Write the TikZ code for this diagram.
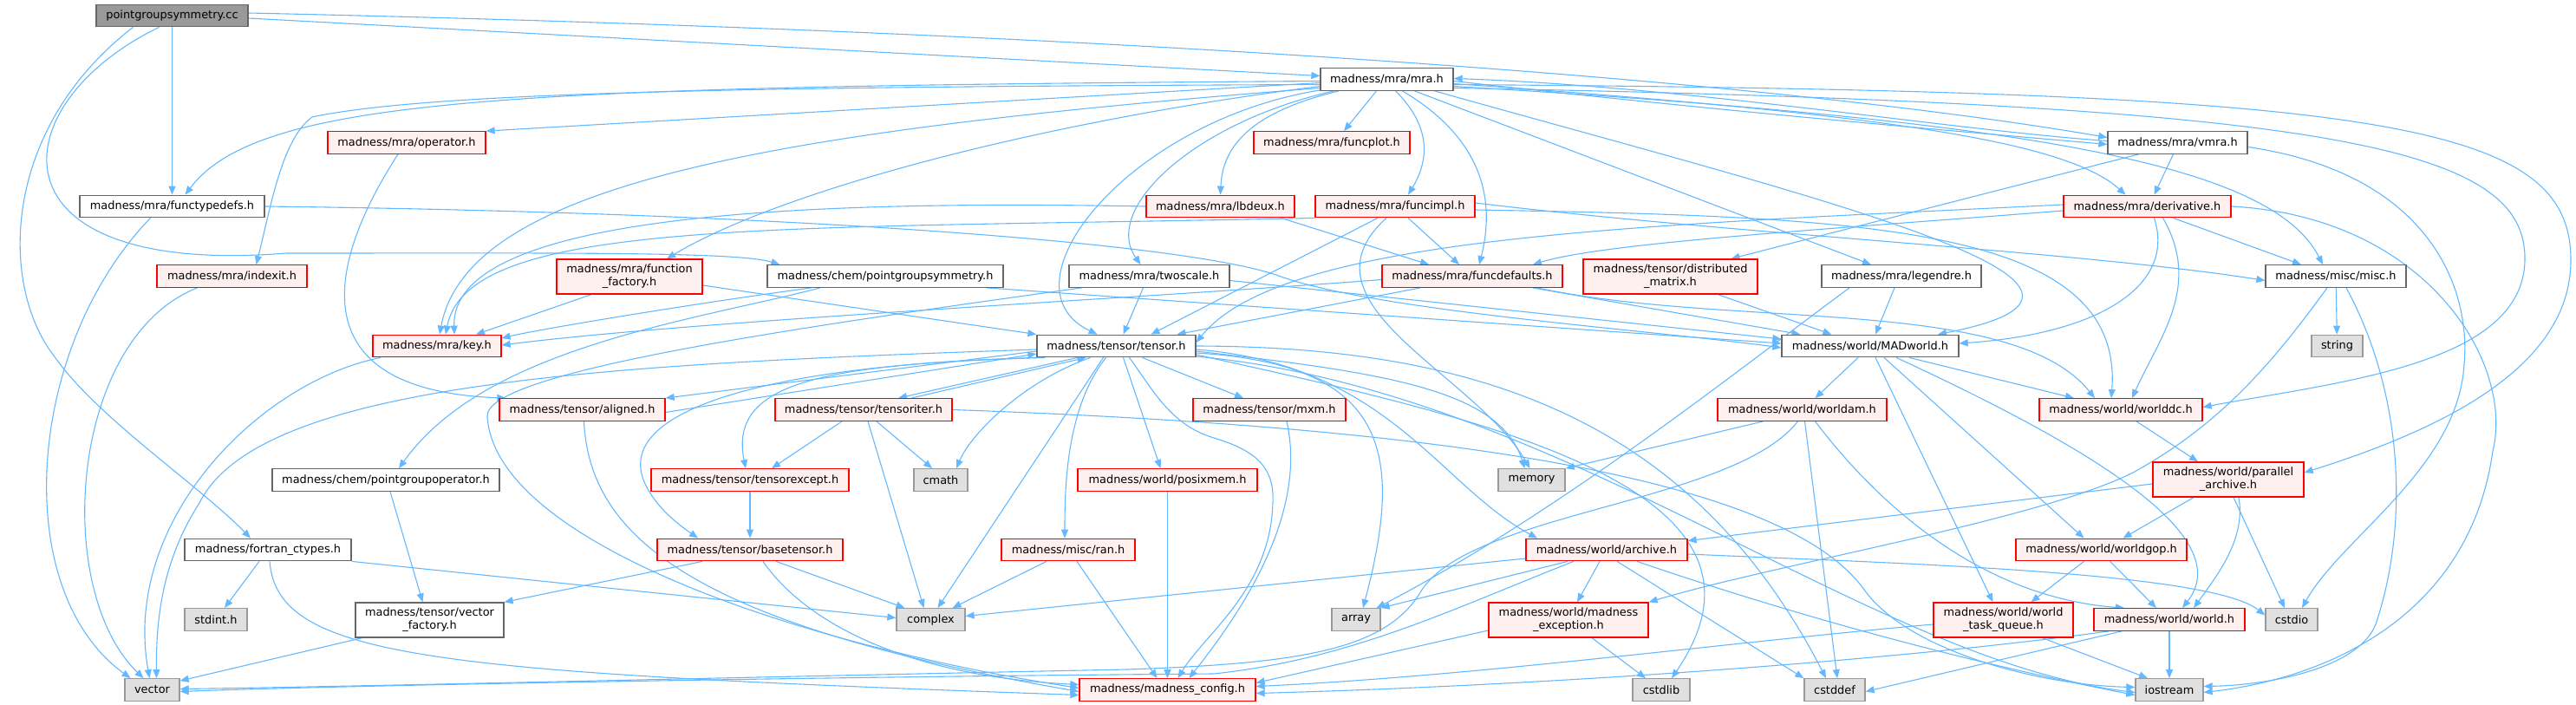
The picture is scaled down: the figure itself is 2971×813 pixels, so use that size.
\documentclass[tikz,border=0pt]{standalone}
\usepackage{fontspec}
\newfontfamily\dejavu{DejaVu Sans}
\usetikzlibrary{arrows.meta}
\pgfdeclarelayer{bg}
\pgfsetlayers{bg,main}
\definecolor{lnkc}{HTML}{63B8FF}
\definecolor{rfill}{HTML}{FFF0F0}
\definecolor{gfill}{HTML}{E0E0E0}
\definecolor{gborder}{HTML}{999999}
\definecolor{wborder}{HTML}{666666}
\definecolor{rootfill}{HTML}{999999}
\begin{document}
\begin{tikzpicture}[x=1pt,y=-1pt,
  nbase/.style={rectangle, inner sep=0pt, line width=1.3pt, align=center, font={\dejavu\fontsize{12.9}{15}\selectfont}, minimum height=25.5pt},
  nw/.style={nbase, draw=wborder, fill=white},
  nr/.style={nbase, draw=red, fill=rfill},
  ng/.style={nbase, draw=gborder, fill=gfill},
  nroot/.style={nbase, draw=wborder, fill=rootfill},
  tall/.style={minimum height=40pt},
  lnk/.style={draw=lnkc, line width=1.1pt, -{Triangle[length=10pt,width=8pt]}}
]
\useasboundingbox (0,0) rectangle (2971,813);

% ---------- nodes ----------
\node[nroot, minimum width=175pt] (pgs) at (198.5,18) {pointgroupsymmetry.cc};
\node[nw, minimum width=153pt] (mra) at (1599.5,91.5) {madness/mra/mra.h};
\node[nr, minimum width=182pt] (operator) at (469,164.5) {madness/mra/operator.h};
\node[nr, minimum width=180pt] (funcplot) at (1536,164.5) {madness/mra/funcplot.h};
\node[nw, minimum width=161pt] (vmra) at (2511.5,164.5) {madness/mra/vmra.h};
\node[nw, minimum width=213pt] (functypedefs) at (198.5,238) {madness/mra/functypedefs.h};
\node[nr, minimum width=171pt] (lbdeux) at (1407.5,238) {madness/mra/lbdeux.h};
\node[nr, minimum width=184pt] (funcimpl) at (1609,238) {madness/mra/funcimpl.h};
\node[nr, minimum width=193pt] (derivative) at (2476.5,238) {madness/mra/derivative.h};
\node[nr, minimum width=173pt] (indexit) at (267.5,318.5) {madness/mra/indexit.h};
\node[nr, tall, minimum width=168pt] (ffactory) at (726,319) {madness/mra/function\\\_factory.h};
\node[nw, minimum width=272pt] (chempgs) at (1021,318.5) {madness/chem/pointgroupsymmetry.h};
\node[nw, minimum width=185pt] (twoscale) at (1325.5,318.5) {madness/mra/twoscale.h};
\node[nr, minimum width=208pt] (funcdefaults) at (1698,318.5) {madness/mra/funcdefaults.h};
\node[nr, tall, minimum width=201pt] (distmat) at (1926.5,319) {madness/tensor/distributed\\\_matrix.h};
\node[nw, minimum width=184pt] (legendre) at (2193,318.5) {madness/mra/legendre.h};
\node[nw, minimum width=162pt] (misc) at (2694,318.5) {madness/misc/misc.h};
\node[nr, minimum width=148pt] (key) at (504,399) {madness/mra/key.h};
\node[nw, minimum width=183pt] (tensor) at (1287.5,399) {madness/tensor/tensor.h};
\node[nw, minimum width=204pt] (madworld) at (2157,399) {madness/world/MADworld.h};
\node[ng, minimum width=59pt] (string) at (2695.5,399) {string};
\node[nr, minimum width=191pt] (aligned) at (671.5,472.5) {madness/tensor/aligned.h};
\node[nr, minimum width=204pt] (tensoriter) at (996,472.5) {madness/tensor/tensoriter.h};
\node[nr, minimum width=176pt] (mxm) at (1464,472.5) {madness/tensor/mxm.h};
\node[nr, minimum width=195pt] (worldam) at (2078.5,472.5) {madness/world/worldam.h};
\node[nr, minimum width=188pt] (worlddc) at (2446,472.5) {madness/world/worlddc.h};
\node[nw, minimum width=262pt] (pgoper) at (445,553.5) {madness/chem/pointgroupoperator.h};
\node[nr, minimum width=228pt] (texcept) at (865,553.5) {madness/tensor/tensorexcept.h};
\node[ng, minimum width=62pt] (cmath) at (1085,553.5) {cmath};
\node[nr, minimum width=207pt] (posixmem) at (1346.5,553.5) {madness/world/posixmem.h};
\node[ng, minimum width=77pt] (memory) at (1766.5,553.5) {memory};
\node[nr, tall, minimum width=174pt] (parchive) at (2570,553) {madness/world/parallel\\\_archive.h};
\node[nw, minimum width=192pt] (fortran) at (309,634) {madness/fortran\_ctypes.h};
\node[nr, minimum width=214pt] (basetensor) at (865,634) {madness/tensor/basetensor.h};
\node[nr, minimum width=154pt] (ran) at (1232,634) {madness/misc/ran.h};
\node[nr, minimum width=186pt] (archive) at (1853,634) {madness/world/archive.h};
\node[nr, minimum width=197pt] (worldgop) at (2423.5,634) {madness/world/worldgop.h};
\node[ng, minimum width=72pt] (stdint) at (249,714.5) {stdint.h};
\node[nw, tall, minimum width=171pt] (vfactory) at (495.5,715) {madness/tensor/vector\\\_factory.h};
\node[ng, minimum width=79pt] (complex) at (1073.5,714.5) {complex};
\node[ng, minimum width=56pt] (array) at (1564,714.5) {array};
\node[nr, tall, minimum width=184pt] (mexcept) at (1809,715) {madness/world/madness\\\_exception.h};
\node[nr, tall, minimum width=161pt] (wtq) at (2310.5,715) {madness/world/world\\\_task\_queue.h};
\node[nr, minimum width=174pt] (world) at (2502,714.5) {madness/world/world.h};
\node[ng, minimum width=60pt] (cstdio) at (2643,714.5) {cstdio};
\node[ng, minimum width=63pt] (vector) at (175.5,795.5) {vector};
\node[nr, minimum width=203pt] (mconfig) at (1346.5,795.5) {madness/madness\_config.h};
\node[ng, minimum width=66pt] (cstdlib) at (1916,795.5) {cstdlib};
\node[ng, minimum width=70pt] (cstddef) at (2116,795.5) {cstddef};
\node[ng, minimum width=78pt] (iostream) at (2502,795.5) {iostream};

% ---------- edges ----------
\begin{pgfonlayer}{bg}
% root
\draw[lnk] ([yshift=-3pt]pgs.east) -- ([yshift=4pt]mra.west);
\draw[lnk] ([yshift=3pt]pgs.east) .. controls (1200,35) and (2000,85) .. ([yshift=6pt]vmra.west);
\draw[lnk] (pgs) -- (functypedefs);
\draw[lnk] ([xshift=-15pt]pgs.south) .. controls (0,120) and (-20,320) .. (330,292) .. controls (650,292) and (850,290) .. ([xshift=15pt]chempgs.north west);
\draw[lnk] ([xshift=-45pt]pgs.south) .. controls (0,150) and (0,330) .. (62,410) .. controls (110,480) and (230,560) .. ([xshift=-20pt]fortran.north);
% mra
\draw[lnk] ([yshift=-4pt]mra.west) -- (operator.north east);
\draw[lnk] ([yshift=-2pt]mra.west) .. controls (600,100) and (300,110) .. ([xshift=15pt]functypedefs.north);
\draw[lnk] ([yshift=-6pt]mra.west) .. controls (900,100) and (500,105) .. (360,135) .. controls (325,160) and (312,240) .. ([xshift=28pt]indexit.north);
\draw[lnk] ([yshift=-8pt]mra.west) .. controls (1200,140) and (900,220) .. ([xshift=43pt]ffactory.north);
\draw[lnk] ([yshift=-10pt]mra.west) .. controls (900,150) and (540,210) .. ([xshift=3pt]key.north);
\draw[lnk] (mra) .. controls (1300,140) and (1150,330) .. ([xshift=-22pt]tensor.north);
\draw[lnk] (mra) .. controls (1380,140) and (1270,240) .. ([xshift=-10pt]twoscale.north);
\draw[lnk] (mra) .. controls (1440,130) and (1410,170) .. (lbdeux.north);
\draw[lnk] ([xshift=-12pt]mra.south) -- ([xshift=14pt]funcplot.north);
\draw[lnk] ([xshift=10pt]mra.south) .. controls (1655,150) and (1645,190) .. ([xshift=15pt]funcimpl.north);
\draw[lnk] ([xshift=18pt]mra.south) .. controls (1710,160) and (1725,230) .. ([xshift=8pt]funcdefaults.north);
\draw[lnk] ([xshift=32pt]mra.south) -- ([xshift=-35pt]legendre.north);
\draw[lnk] ([xshift=55pt]mra.south) .. controls (2100,230) and (2520,330) .. ([xshift=78pt]madworld.north);
\draw[lnk] ([yshift=-2pt]mra.east) .. controls (2000,130) and (2300,155) .. ([yshift=-2pt]vmra.west);
\draw[lnk] ([yshift=-5pt]mra.east) .. controls (2150,130) and (2380,160) .. ([xshift=-25pt]derivative.north);
\draw[lnk] ([yshift=-8pt]mra.east) .. controls (2350,140) and (2620,190) .. ([xshift=-15pt]misc.north);
\draw[lnk] ([yshift=-10pt]mra.east) .. controls (2700,120) and (2914,170) .. (2912,300) .. controls (2910,420) and (2700,440) .. ([yshift=3pt]worlddc.east);
\draw[lnk] ([yshift=-6pt]mra.east) .. controls (2750,105) and (2965,140) .. (2965,300) .. controls (2965,430) and (2800,500) .. ([yshift=8pt]parchive.east);
% vmra
\draw[lnk] ([yshift=2pt]vmra.west) .. controls (2250,150) and (1950,100) .. ([yshift=1pt]mra.east);
\draw[lnk] ([xshift=-5pt]vmra.south) -- ([xshift=8pt]derivative.north);
\draw[lnk] ([xshift=-45pt]vmra.south) -- ([xshift=70pt]distmat.north);
\draw[lnk] ([yshift=-5pt]vmra.east) .. controls (2800,200) and (2850,330) .. (2842,420) .. controls (2835,540) and (2700,620) .. ([xshift=12pt]cstdio.north);
% derivative
\draw[lnk] ([xshift=30pt]derivative.south) -- ([xshift=-40pt]misc.north);
\draw[lnk] ([xshift=8pt]derivative.south) .. controls (2510,330) and (2420,385) .. ([yshift=3pt]madworld.east);
\draw[lnk] ([xshift=18pt]derivative.south) .. controls (2540,330) and (2490,390) .. ([xshift=13pt]worlddc.north);
\draw[lnk] (derivative.east) .. controls (2800,250) and (2900,420) .. (2875,520) .. controls (2850,700) and (2700,780) .. ([yshift=-3pt]iostream.east);
\draw[lnk] ([yshift=-5pt]derivative.west) .. controls (2100,265) and (1850,280) .. ([xshift=70pt]funcdefaults.north);
\draw[lnk] ([yshift=2pt]derivative.west) .. controls (1900,260) and (1480,270) .. ([yshift=4pt]tensor.east);
% functypedefs
\draw[lnk] ([xshift=-25pt]functypedefs.south) .. controls (30,400) and (10,680) .. ([xshift=-25pt]vector.north);
\draw[lnk] (functypedefs.east) .. controls (900,245) and (1380,280) .. (1480,320) .. controls (1600,360) and (1900,380) .. ([yshift=-2pt]madworld.west);
% operator, indexit, key
\draw[lnk] ([xshift=-10pt]operator.south) .. controls (380,300) and (340,450) .. ([xshift=8pt]aligned.north west);
\draw[lnk] ([xshift=-40pt]indexit.south) .. controls (80,390) and (60,680) .. ([xshift=-10pt]vector.north);
\draw[lnk] ([xshift=-65pt]key.south) .. controls (300,440) and (140,600) .. ([xshift=-3pt]vector.north);
% function factory
\draw[lnk] ([xshift=-44pt]ffactory.south) -- ([xshift=45pt]key.north);
\draw[lnk] ([yshift=-10pt]ffactory.east) -- (tensor.north west);
% chem pointgroupsymmetry
\draw[lnk] ([xshift=-85pt]chempgs.south) .. controls (800,350) and (620,380) .. ([yshift=9pt]key.east);
\draw[lnk] ([xshift=-75pt]chempgs.south) .. controls (800,370) and (560,400) .. ([xshift=15pt]pgoper.north);
\draw[lnk] ([xshift=-20pt]chempgs.south east) -- ([yshift=3pt]madworld.west);
% twoscale
\draw[lnk] ([xshift=-7pt]twoscale.south) -- ([xshift=8pt]tensor.north);
\draw[lnk] ([yshift=-5pt]twoscale.east) -- ([yshift=8pt]madworld.west);
\draw[lnk] ([xshift=-78pt]twoscale.south) .. controls (900,380) and (560,430) .. (562,480) .. controls (570,620) and (900,740) .. ([yshift=2pt]mconfig.west);
% funcdefaults
\draw[lnk] ([xshift=-60pt]funcdefaults.south) -- ([xshift=70pt]tensor.north);
\draw[lnk] ([yshift=-4pt]funcdefaults.west) .. controls (1300,345) and (800,370) .. ([yshift=1pt]key.east);
\draw[lnk] ([xshift=-35pt]funcdefaults.south east) -- ([xshift=22pt]madworld.north west);
\draw[lnk] ([xshift=-30pt]funcdefaults.south east) .. controls (2000,380) and (2320,340) .. ([xshift=-30pt]worlddc.north);
% distributed matrix, legendre, misc
\draw[lnk] ([xshift=55pt]distmat.south) -- ([xshift=58pt]madworld.north west);
\draw[lnk] ([xshift=-8pt]legendre.south) -- ([xshift=6pt]madworld.north);
\draw[lnk] ([xshift=-60pt]legendre.south) .. controls (2000,430) and (1800,590) .. ([xshift=-5pt]array.north east);
\draw[lnk] (misc) -- (string);
\draw[lnk] ([xshift=12pt]misc.south) .. controls (2770,450) and (2780,600) .. (2740,720) .. controls (2720,770) and (2620,790) .. ([yshift=4pt]iostream.east);
\draw[lnk] ([xshift=-10pt]misc.south) .. controls (2620,420) and (2560,490) .. (2460,545) .. controls (2350,600) and (2050,650) .. (mexcept.north east);
% lbdeux
\draw[lnk] ([xshift=70pt]lbdeux.south) -- ([xshift=-50pt]funcdefaults.north);
\draw[lnk] (lbdeux.west) .. controls (900,230) and (520,250) .. ([xshift=20pt]key.north);
% funcimpl
\draw[lnk] ([xshift=15pt]funcimpl.south) -- ([xshift=-15pt]funcdefaults.north);
\draw[lnk] ([xshift=-20pt]funcimpl.south) -- ([xshift=40pt]tensor.north);
\draw[lnk] (funcimpl.south west) .. controls (900,265) and (540,250) .. ([xshift=10pt]key.north);
\draw[lnk] ([yshift=4pt]funcimpl.east) .. controls (2000,270) and (2400,290) .. ([yshift=-5pt]misc.west);
\draw[lnk] ([yshift=-4pt]funcimpl.east) .. controls (2150,250) and (2450,260) .. ([xshift=-11pt]worlddc.north);
\draw[lnk] ([xshift=-10pt]funcimpl.south) .. controls (1490,350) and (1700,430) .. ([xshift=-2pt]memory.north);
% tensor
\draw[lnk] ([yshift=-6pt]tensor.west) -- (aligned.north east);
\draw[lnk] ([yshift=-3pt]aligned.east) -- ([yshift=-9pt]tensor.west);
\draw[lnk] ([xshift=-45pt]tensor.south) -- ([xshift=40pt]tensoriter.north);
\draw[lnk] ([xshift=55pt]tensoriter.north) -- ([xshift=-35pt]tensor.south);
\draw[lnk] ([xshift=10pt]tensor.south west) .. controls (950,420) and (840,440) .. ([xshift=-5pt]texcept.north);
\draw[lnk] ([xshift=3pt]tensor.south west) .. controls (900,420) and (700,470) .. (745,560) .. controls (760,590) and (790,610) .. ([xshift=-60pt]basetensor.north);
\draw[lnk] ([xshift=-30pt]tensor.south) .. controls (1180,440) and (1120,500) .. ([xshift=18pt]cmath.north);
\draw[lnk] ([xshift=15pt]tensoriter.south) -- ([xshift=-10pt]cmath.north);
\draw[lnk] ([xshift=-15pt]tensor.south) -- ([xshift=8pt]complex.north);
\draw[lnk] ([xshift=5pt]tensoriter.south) -- ([xshift=-8pt]complex.north);
\draw[lnk] ([xshift=-12pt]tensor.south) .. controls (1230,470) and (1228,560) .. ([xshift=-4pt]ran.north);
\draw[lnk] ([xshift=8pt]tensor.south) -- ([xshift=-8pt]posixmem.north);
\draw[lnk] ([xshift=15pt]tensor.south) .. controls (1330,450) and (1350,490) .. (1400,505) .. controls (1450,520) and (1470,540) .. (1468,580) .. controls (1465,680) and (1390,730) .. ([xshift=12pt]mconfig.north);
\draw[lnk] ([xshift=30pt]tensor.south) -- ([xshift=-30pt]mxm.north);
\draw[lnk] ([yshift=-6pt]tensor.east) .. controls (1600,430) and (1730,450) .. ([xshift=-8pt]memory.north);
\draw[lnk] ([yshift=-8pt]tensor.east) .. controls (1600,420) and (1620,520) .. ([xshift=8pt]array.north);
\draw[lnk] ([yshift=-4pt]tensor.east) .. controls (1600,420) and (1660,560) .. ([xshift=-80pt]archive.north);
\draw[lnk] ([yshift=-10pt]tensor.east) .. controls (1700,480) and (2080,560) .. ([xshift=12pt]cstdlib.north);
\draw[lnk] (tensor.east) .. controls (1700,400) and (1950,480) .. ([xshift=-10pt]cstddef.north);
\draw[lnk] ([yshift=-12pt]tensor.east) .. controls (1800,450) and (2150,760) .. ([yshift=-3pt]iostream.west);
\draw[lnk] ([yshift=-4pt]tensor.west) .. controls (700,420) and (300,440) .. (230,580) .. controls (185,650) and (180,720) .. ([xshift=5pt]vector.north);
% tensoriter
\draw[lnk] ([xshift=-25pt]tensoriter.south) -- ([xshift=25pt]texcept.north);
\draw[lnk] (tensoriter.east) .. controls (1600,490) and (2050,540) .. (2150,680) .. controls (2200,750) and (2350,790) .. ([yshift=3pt]iostream.west);
% aligned, basetensor, tensorexcept
\draw[lnk] ([xshift=2pt]aligned.south) .. controls (680,620) and (800,720) .. ([yshift=-2pt]mconfig.west);
\draw[lnk] ([xshift=30pt]basetensor.south) -- ([xshift=-30pt]complex.north);
\draw[lnk] ([xshift=15pt]basetensor.south) .. controls (930,720) and (1050,780) .. ([yshift=6pt]mconfig.west);
\draw[lnk] ([xshift=-55pt]basetensor.south) -- (vfactory.north east);
\draw[lnk] (texcept) -- (basetensor);
% ran, posixmem, mxm
\draw[lnk] ([xshift=-25pt]ran.south) -- ([xshift=25pt]complex.north);
\draw[lnk] ([xshift=10pt]ran.south) -- ([xshift=-12pt]mconfig.north);
\draw[lnk] (posixmem) -- (mconfig);
\draw[lnk] ([xshift=20pt]mxm.south) .. controls (1510,600) and (1420,720) .. ([xshift=25pt]mconfig.north);
% fortran, pointgroupoperator, vector factory
\draw[lnk] ([xshift=-10pt]fortran.south) -- ([xshift=10pt]stdint.north);
\draw[lnk] (fortran.south east) -- ([yshift=2pt]complex.west);
\draw[lnk] ([xshift=2pt]fortran.south) .. controls (320,760) and (500,775) .. ([yshift=-6pt]mconfig.west);
\draw[lnk] ([xshift=5pt]pgoper.south) -- ([xshift=-8pt]vfactory.north);
\draw[lnk] ([xshift=-78pt]vfactory.south) -- ([yshift=-3pt]vector.north east);
% MADworld
\draw[lnk] ([xshift=-14pt]madworld.south) -- ([xshift=15pt]worldam.north);
\draw[lnk] ([xshift=45pt]madworld.south) -- ([xshift=-54pt]worlddc.north);
\draw[lnk] ([xshift=16pt]madworld.south) -- ([xshift=-20pt]worldgop.north);
\draw[lnk] ([xshift=6pt]madworld.south) -- ([xshift=-12pt]wtq.north);
\draw[lnk] ([xshift=30pt]madworld.south) .. controls (2420,520) and (2580,620) .. ([xshift=15pt]world.north);
% worldam
\draw[lnk] ([xshift=-45pt]worldam.south) -- (memory.north east);
\draw[lnk] ([xshift=3pt]worldam.south) -- ([xshift=3pt]cstddef.north);
\draw[lnk] ([xshift=15pt]worldam.south) .. controls (2180,600) and (2300,690) .. ([xshift=-52pt]world.north);
\draw[lnk] ([xshift=-5pt]worldam.south) .. controls (2000,580) and (1700,590) .. (1640,680) .. controls (1600,750) and (1500,765) .. (1300,772) .. controls (900,780) and (400,792) .. ([yshift=1pt]vector.east);
% archive
\draw[lnk] ([yshift=-10pt]archive.west) -- ([yshift=4pt]complex.east);
\draw[lnk] ([xshift=-45pt]archive.south) -- (array.north east);
\draw[lnk] ([xshift=-8pt]archive.south) -- ([xshift=10pt]mexcept.north);
\draw[lnk] ([xshift=12pt]archive.south) -- (cstddef.north west);
\draw[lnk] ([xshift=35pt]archive.south) .. controls (2100,720) and (2300,770) .. ([yshift=-6pt]iostream.west);
\draw[lnk] ([yshift=-5pt]archive.east) .. controls (2200,650) and (2550,660) .. ([yshift=5pt]cstdio.west);
\draw[lnk] ([xshift=-38pt]archive.south) .. controls (1680,700) and (1560,760) .. (1400,777) .. controls (1000,780) and (400,790) .. ([yshift=-2pt]vector.east);
% parallel archive, worlddc, worldgop
\draw[lnk] ([yshift=-5pt]parchive.west) -- ([yshift=-3pt]archive.north east);
\draw[lnk] ([xshift=-40pt]parchive.south) -- ([xshift=25pt]worldgop.north);
\draw[lnk] ([xshift=12pt]parchive.south) .. controls (2590,620) and (2560,660) .. ([xshift=28pt]world.north);
\draw[lnk] ([xshift=6pt]parchive.south) -- ([xshift=-8pt]cstdio.north);
\draw[lnk] ([xshift=18pt]worlddc.south) -- ([xshift=-35pt]parchive.north);
\draw[lnk] ([xshift=-20pt]worldgop.south) -- ([xshift=32pt]wtq.north);
\draw[lnk] ([xshift=10pt]worldgop.south) -- ([xshift=-15pt]world.north);
% world task queue, world, madness exception
\draw[lnk] ([xshift=45pt]wtq.south) -- ([xshift=-25pt]iostream.north);
\draw[lnk] ([yshift=-5pt]wtq.west) .. controls (2000,740) and (1700,780) .. ([yshift=4pt]mconfig.east);
\draw[lnk] (world) -- (iostream);
\draw[lnk] ([xshift=-55pt]world.south) -- ([yshift=-2pt]cstddef.east);
\draw[lnk] ([xshift=-70pt]world.south) .. controls (2200,760) and (1800,790) .. ([yshift=-4pt]mconfig.east);
\draw[lnk] ([xshift=27pt]mexcept.south) -- ([xshift=-18pt]cstdlib.north);
\draw[lnk] ([yshift=-12pt]mexcept.west) -- ([yshift=8pt]mconfig.east);
\end{pgfonlayer}
\end{tikzpicture}
\end{document}
